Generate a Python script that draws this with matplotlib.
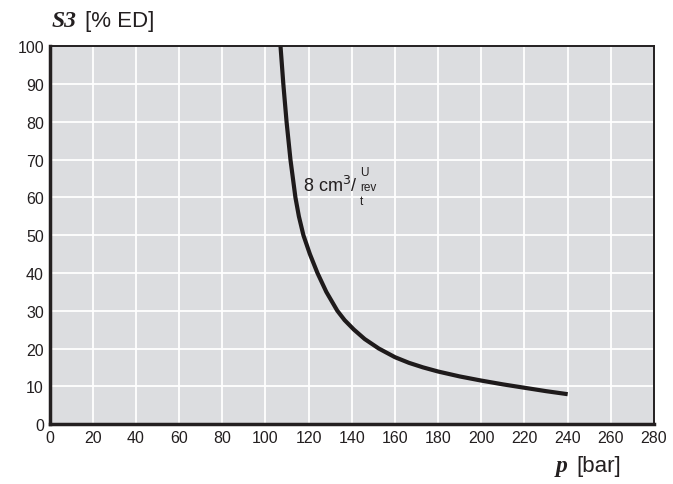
import matplotlib.pyplot as plt

druck = [107, 108.3, 109.8, 111.6, 113.9, 115.5, 117.6, 120.6, 124.1, 128.2, 133.3, 136.7, 141,
         146, 152.5, 160, 166.5, 173, 180, 190, 200, 210, 220, 230, 240]
s3_ed = [100, 90, 80, 70, 60, 55, 50, 45, 40, 35, 30, 27.5, 25,
         22.5, 20, 17.7, 16.2, 15, 13.9, 12.6, 11.5, 10.5, 9.6, 8.7, 7.9]

x_ticks = list(range(0, 281, 20))
y_ticks = list(range(0, 101, 10))

fig = plt.figure(figsize=(6.73, 4.85), dpi=100)
ax = fig.add_axes([0.0736, 0.1237, 0.8982, 0.7784])
ax.set_facecolor('#dcdde0')

ax.plot(druck, s3_ed, color='#1e1a1b', linewidth=3.0, solid_joinstyle='round',
        solid_capstyle='butt', zorder=3)

ax.set_xlim(0, 280)
ax.set_ylim(0, 100)
ax.set_xticks(x_ticks)
ax.set_yticks(y_ticks)
ax.grid(True, color='white', linewidth=1.3)
ax.set_axisbelow(True)
ax.tick_params(length=0, labelsize=11.5, pad=4)
for lbl in ax.get_xticklabels() + ax.get_yticklabels():
    lbl.set_family('Liberation Sans')
    lbl.set_color('#231f20')
for s in ax.spines.values():
    s.set_color('#231f20')
    s.set_linewidth(1.4)
ax.spines['left'].set_linewidth(2.5)
ax.spines['bottom'].set_linewidth(2.5)

# Achsentitel
fig.text(0.077, 0.955, 'S3', family='Liberation Serif', style='italic', weight='bold',
         fontsize=17, color='#231f20', va='center')
fig.text(0.126, 0.955, '[% ED]', family='Liberation Sans', fontsize=16, color='#231f20', va='center')
fig.text(0.826, 0.039, 'p', family='Liberation Serif', style='italic', weight='bold',
         fontsize=17, color='#231f20', va='center')
fig.text(0.857, 0.039, '[bar]', family='Liberation Sans', fontsize=16, color='#231f20', va='center')

# Kurvenbeschriftung
ax.text(117.2, 61.7, '8 cm$^3$/', family='Liberation Sans', fontsize=13, color='#231f20', va='baseline')
for txt, yy in [('U', 66.0), ('rev', 62.0), ('t', 58.3)]:
    ax.text(143.7, yy, txt, family='Liberation Sans', fontsize=8.5, color='#231f20', va='baseline')

fig.savefig('out.png', dpi=100)
